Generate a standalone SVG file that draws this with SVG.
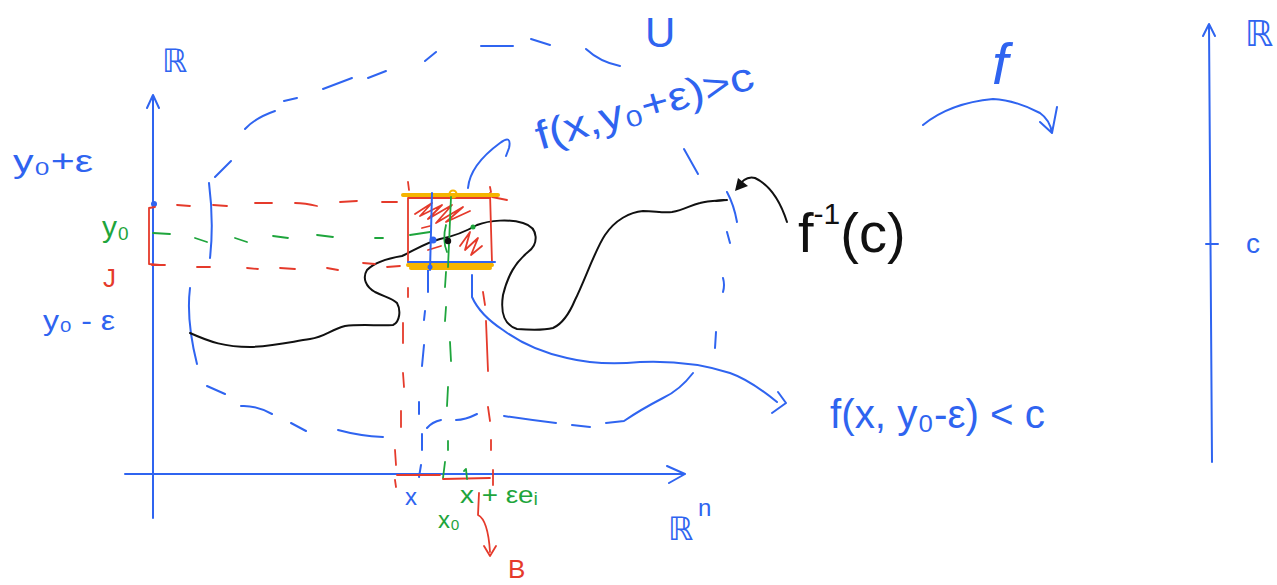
<svg xmlns="http://www.w3.org/2000/svg" width="1277" height="585" viewBox="0 0 1277 585">
<defs>
<style>
.b{stroke:#2f64f0;fill:none;stroke-width:2;stroke-linecap:round;stroke-linejoin:round}
.r{stroke:#e53a2b;fill:none;stroke-width:1.8;stroke-linecap:round;stroke-linejoin:round}
.g{stroke:#1ea53c;fill:none;stroke-width:1.8;stroke-linecap:round;stroke-linejoin:round}
.o{stroke:#f5b400;fill:none;stroke-width:4;stroke-linecap:round}
.k{stroke:#111;fill:none;stroke-width:2;stroke-linecap:round;stroke-linejoin:round}
.t{font-family:"Liberation Sans","DejaVu Sans",sans-serif}
.tb{fill:#2f64f0}.tg{fill:#1ea53c}.tr{fill:#e53a2b}.tk{fill:#111}
</style>
</defs>
<rect width="1277" height="585" fill="#fff"/>

<g id="axes">
<path class="b" d="M153,518 L153,95 M147,108 L153,95 L159,108"/>
<path class="b" d="M125,474 L685,474 M667,466 L685,474 L669,483"/>
<path class="b" d="M1212,462 L1209,25 M1203,36 L1209,24 L1215,36 M1206,244 L1218,244"/>
<circle cx="154" cy="204" r="3" fill="#2f64f0"/>
</g>

<g id="set-U">
<path class="b" d="M209,183 Q214,222 210,258 M215,177 L231,161 M245,129 Q255,118 275,111 M284,101 L297,98 M323,89 L352,78 M368,78 L386,71 M425,61 L436,52 M481,46 L513,46 M531,39 L550,45 M586,49 Q600,62 620,66 M684,149 L698,174 M727,192 Q734,205 737,222 M727,232 L730,243 M723,278 Q725,285 723,292 M716,332 L715,348 M693,373 Q680,390 663,398 Q640,410 624,421 L606,423 M590,427 L572,425 M556,423 Q530,420 504,416 M477,414 Q465,420 456,420 M441,420 Q432,422 427,428 M383,437 Q360,436 338,430 M306,431 L291,423 M272,414 Q255,405 241,406 M225,394 L207,386 M190,288 Q186,320 197,364"/>
</g>

<g id="level-set">
<path class="k" d="M190,333 C210,342 225,347 250,347 C275,346 290,342 310,339 C325,337 330,330 345,326 C360,324 380,326 393,325 C400,322 401,310 397,303 C392,298 385,297 375,292 C366,287 362,278 367,270 C375,262 390,258 402,256 C415,250 425,243 440,239 C455,236 465,232 477,225 C490,220 510,219 523,223 C540,228 538,245 528,252 C515,263 508,275 503,295 C500,315 505,325 517,329 C530,330 545,330 553,328 C562,324 570,312 575,300 C585,280 595,250 605,235 C615,220 630,212 643,211 C655,211 662,213 672,212 C685,210 690,205 700,203 C708,201 715,201 727,200"/>
<path class="k" stroke-width="3.5" d="M716,201 L724,200"/>
</g>

<g id="projections">
<path class="r" d="M177,205 L190,206 M213,205 L227,206 M255,203 L272,203 M295,203 Q305,203 317,206 M340,202 L357,201 M382,202 L397,202 M492,197 L507,200 M152,265 L165,265 M197,267 L210,267 M247,268 L258,269 M280,268 L295,269 M327,268 L338,270 M363,263 L375,264 M387,267 L400,266"/>
<path class="r" d="M155,207 L149,208 L149,264 L160,265"/>
<path class="g" d="M153,233 L170,234 M195,238 L207,242 M235,238 L247,242 M273,236 L288,238 M317,235 L333,237 M375,238 L383,238 M410,235 L430,232"/>
<path class="r" d="M408,182 L409,190 M490,187 L491,192 M408,288 L408,297 M403,323 L403,343 M403,373 L404,387 M401,411 L401,427 M395,450 L396,465 M395,480 L396,487 M483,292 L485,305 M486,321 L488,371 M488,407 L490,421 M491,440 L491,450 M493,470 L493,485"/>
<path class="b" d="M428,270 L428,292 M425,311 L424,320 M424,345 L422,366 M419,402 L419,414 M422,434 L422,450 M421,465 L419,477"/>
<path class="g" d="M446,272 L445,287 M446,307 L445,321 M450,342 L451,361 M448,387 L447,406 M448,441 L448,450 M445,462 L443,478"/>
<path class="r" d="M397,475 L440,475 M443,479 L490,478"/>
<path class="g" d="M464,471 L466,469 L467,479"/>
</g>

<g id="box">
<path class="r" d="M408,198 L408,262 M408,198 L490,198 M490,193 L492,263"/>
<path class="r" stroke-width="2.2" d="M415,214 L432,203 L420,216 L442,205 L428,219 L452,205 L436,223 L463,207 L446,222 L470,211 M460,246 L470,232 L465,250 L478,238 L471,255 L482,246 M428,250 L441,246 M422,228 L430,226"/>
<path class="o" d="M403,195 L498,195"/>
<circle cx="453" cy="194" r="3.5" fill="none" stroke="#f5b400" stroke-width="2"/>
<path class="b" d="M408,262 L495,262"/>
<path class="o" d="M408,265 L492,265 M411,268 L490,268"/>
<path class="b" d="M432,193 L430,270"/>
<circle cx="433" cy="240" r="3.5" fill="#2f64f0"/>
<circle cx="430" cy="267" r="2.5" fill="#2f64f0"/>
<path class="g" stroke-width="4" d="M451,197 L448,267"/>
<path class="g" stroke-width="3" d="M446,225 Q442,240 447,252"/>
<circle cx="448" cy="241" r="3.2" fill="#111"/>
<circle cx="473" cy="227" r="2.5" fill="#1ea53c"/>
</g>

<g id="connectors">
<path class="b" d="M468,188 Q470,165 500,143 Q512,134 509,148 L506,156"/>
<path class="b" d="M472,275 L472,297 Q480,315 503,330 Q530,350 567,358 Q600,366 640,362 Q690,360 730,373 Q750,380 777,402 M778,392 L786,403 L772,413"/>
<path class="k" d="M787,222 C780,200 770,185 755,178 C748,176 742,180 737,188"/>
<polygon points="735,191 738,178 748,186" fill="#111"/>
<path class="b" d="M923,125 Q950,103 993,99 Q1015,100 1040,113 Q1050,120 1052,133 M1040,122 L1052,133 L1057,107"/>
<path class="r" d="M479,493 L478,515 Q488,520 490,552 M484,546 L490,556 L496,546"/>
</g>

<g id="labels" class="t">
<text class="tb" x="162" y="72" font-size="32">ℝ</text>
<text class="tb" x="1245" y="46" font-size="36">ℝ</text>
<text class="tb" x="1246" y="253" font-size="28">c</text>
<text class="tb" x="668" y="540" font-size="32">ℝ</text>
<text class="tb" x="698" y="516" font-size="24">n</text>
<text class="tb" x="645" y="47" font-size="42">U</text>
<text class="tb" x="992" y="84" font-size="58" font-style="italic">f</text>
<text class="tb" x="13" y="172" font-size="32" textLength="80" lengthAdjust="spacingAndGlyphs">y₀+ε</text>
<text class="tg" x="102" y="237" font-size="30">y₀</text>
<text class="tr" x="103" y="287" font-size="26">J</text>
<text class="tb" x="43" y="330" font-size="28" textLength="72" lengthAdjust="spacingAndGlyphs">y₀ - ε</text>
<text class="tb" x="540" y="150" font-size="40" transform="rotate(-16 540 150)" textLength="225" lengthAdjust="spacingAndGlyphs">f(x,y₀+ε)&gt;c</text>
<text class="tk" x="798" y="252" font-size="56">f<tspan font-size="30" dy="-28">-1</tspan><tspan dy="28">(c)</tspan></text>
<text class="tb" x="830" y="428" font-size="40" textLength="215" lengthAdjust="spacingAndGlyphs">f(x, y₀-ε) &lt; c</text>
<text class="tb" x="405" y="505" font-size="24">x</text>
<text class="tg" x="438" y="528" font-size="24">x₀</text>
<text class="tg" x="460" y="503" font-size="24" textLength="78" lengthAdjust="spacingAndGlyphs">x + εeᵢ</text>
<text class="tr" x="508" y="578" font-size="26">B</text>
</g>
</svg>
